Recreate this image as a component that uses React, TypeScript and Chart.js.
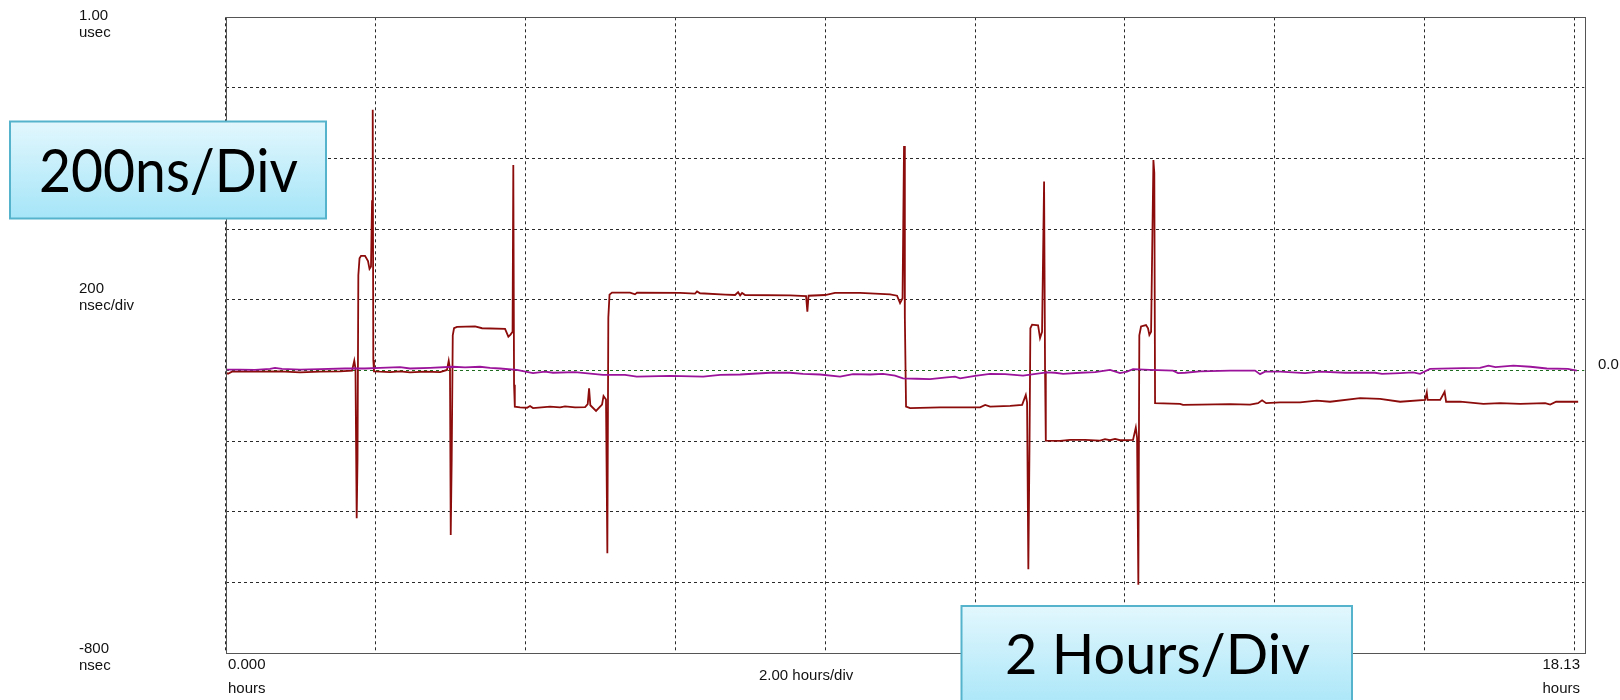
import React, { useEffect, useRef } from "react";
import { Chart, registerables } from "chart.js";

Chart.register(...registerables);

// ---- Data (hours, nanoseconds) ----
const redHours = [
  0.0, 0.031, 0.084, 0.458, 0.725, 0.992, 1.258, 1.525, 1.686, 1.716, 1.732, 1.748, 1.759, 1.77, 1.786, 1.806,
  1.859, 1.899, 1.919, 1.939, 1.953, 1.962, 1.97, 1.979, 2.059, 2.193, 2.327, 2.46, 2.66, 2.861, 2.953, 2.976,
  2.993, 3.003, 3.016, 3.03, 3.047, 3.087, 3.327, 3.421, 3.728, 3.772, 3.801, 3.828, 3.838, 3.848, 3.858, 3.928,
  4.021, 4.061, 4.101, 4.328, 4.462, 4.528, 4.662, 4.796, 4.831, 4.849, 4.866, 4.942, 5.022, 5.042, 5.075, 5.093,
  5.106, 5.122, 5.155, 5.396, 5.462, 5.489, 6.063, 6.263, 6.29, 6.33, 6.664, 6.798, 6.838, 6.865, 6.891, 6.931,
  7.532, 7.745, 7.762, 7.778, 7.998, 8.131, 8.465, 8.866, 8.959, 8.999, 9.032, 9.052, 9.063, 9.079, 9.133, 9.533,
  10.067, 10.135, 10.201, 10.468, 10.628, 10.677, 10.694, 10.711, 10.727, 10.738, 10.761, 10.841, 10.867, 10.894,
  10.921, 10.934, 10.944, 11.134, 11.268, 11.468, 11.668, 11.734, 11.801, 11.868, 11.934, 12.108, 12.145, 12.162,
  12.179, 12.192, 12.215, 12.281, 12.308, 12.326, 12.349, 12.38, 12.392, 12.402, 12.735, 12.775, 13.002, 13.403,
  13.67, 13.776, 13.83, 13.884, 14.07, 14.337, 14.56, 14.737, 15.138, 15.405, 15.672, 16.005, 16.028, 16.039,
  16.207, 16.266, 16.286, 16.473, 16.784, 17.007, 17.275, 17.608, 17.675, 17.754, 18.048,
];
const redNs = [
  -5, -9, -3, -3, -2, -5, -3, -2, 0, 28, 5, -418, -250, 270, 318, 325,
  325, 310, 288, 295, 480, 738, 30, -2, -3, -4, -2, -5, -3, -4, 2, 28,
  5, -465, -250, 100, 120, 124, 125, 120, 118, 96, 102, 110, 582, -40, -102, -104,
  -105, -100, -106, -102, -104, -101, -104, -103, -95, -50, -98, -114, -96, -72, -82, -517,
  150, 215, 221, 221, 216, 221, 220, 218, 224, 219, 215, 214, 222, 213, 220, 214,
  213, 211, 167, 212, 214, 220, 220, 216, 212, 191, 205, 636, 150, -102, -106, -104,
  -104, -97, -102, -100, -97, -69, -90, -562, -200, 120, 130, 128, 92, 110,
  535, 0, -198, -199, -196, -196, -198, -194, -197, -193, -197, -196, -161, -190,
  -606, 100, 125, 129, 120, 101, 110, 596, 560, -92, -94, -97, -96, -95,
  -96, -92, -84, -92, -90, -90, -85, -88, -78, -80, -88, -83, -62, -83,
  -83, -60, -88, -88, -94, -92, -94, -92, -96, -88, -88,
];

const purpleHours = [
  0.0, 0.191, 0.391, 0.591, 0.658, 0.751, 0.992, 1.258, 1.592, 1.859, 2.059, 2.327, 2.46, 2.727, 3.034, 3.194,
  3.394, 3.528, 3.661, 3.884, 4.101, 4.261, 4.368, 4.662, 5.035, 5.329, 5.485, 5.93, 6.372, 6.599, 6.865, 7.265,
  7.532, 7.705, 7.932, 8.198, 8.372, 8.599, 8.772, 8.932, 9.039, 9.222, 9.399, 9.622, 9.733, 9.8, 10.0, 10.2,
  10.4, 10.64, 10.957, 11.068, 11.175, 11.402, 11.602, 11.735, 11.801, 11.934, 12.028, 12.108, 12.334, 12.641,
  12.708, 12.801, 13.002, 13.403, 13.736, 13.803, 13.87, 14.07, 14.404, 14.604, 14.938, 15.338, 15.431, 15.672,
  15.845, 15.938, 16.071, 16.511, 16.738, 16.851, 16.944, 17.184, 17.411, 17.63, 17.911, 18.03,
];
const purpleNs = [
  3, 3, 2, 5, 8, 5, 3, 4, 6, 6, 8, 10, 6, 8, 11, 9,
  11, 8, 6, 2, -7, -3, -6, -4, -12, -12, -17, -15, -17, -12, -11, -6,
  -6, -9, -11, -17, -10, -11, -9, -14, -22, -23, -24, -19, -17, -22, -15, -9,
  -10, -14, -5, -6, -9, -6, -4, 0, 2, -7, -3, 4, 2, 0,
  -7, -6, -2, 0, 0, -10, -3, -3, -7, -3, -6, -6, -9, -7,
  -5, -9, 5, 7, 8, 14, 10, 14, 11, 6, 5, 0,
];

const xMin = 0;
const xMax = 18.13;
const xStep = 2;
const yMin = -800;
const yMax = 1000;
const yStep = 200;

const LABEL_FONT = '15px "Liberation Sans", Arial, sans-serif';

const overlayPlugin = {
  id: "overlay",
  afterDraw(chart: any) {
    const ctx: CanvasRenderingContext2D = chart.ctx;
    const a = chart.chartArea;
    ctx.save();
    // frame
    ctx.strokeStyle = "#555";
    ctx.lineWidth = 1;
    ctx.setLineDash([]);
    ctx.strokeRect(Math.round(a.left) + 0.5, Math.round(a.top) + 0.5, Math.round(a.right - a.left), Math.round(a.bottom - a.top));

    // labels
    ctx.fillStyle = "#111";
    ctx.font = LABEL_FONT;
    ctx.textBaseline = "alphabetic";
    ctx.textAlign = "left";
    ctx.fillText("1.00", 79, 20);
    ctx.fillText("usec", 79, 37);
    ctx.fillText("200", 79, 293);
    ctx.fillText("nsec/div", 79, 310);
    ctx.fillText("-800", 79, 652.5);
    ctx.fillText("nsec", 79, 670);
    ctx.fillText("0.000", 228, 669);
    ctx.fillText("hours", 228, 693);
    ctx.fillText("2.00 hours/div", 759, 679.5);
    ctx.fillText("0.0", 1598, 368.5);
    ctx.textAlign = "right";
    ctx.fillText("18.13", 1580, 669);
    ctx.fillText("hours", 1580, 693);

    // annotation boxes
    const drawBox = (x: number, y: number, w: number, h: number, text: string, tx: number, ty: number, size: number, tw: number) => {
      const g = ctx.createLinearGradient(0, y, 0, y + h);
      g.addColorStop(0, "#e2f7fd");
      g.addColorStop(1, "#a5e5f8");
      ctx.fillStyle = g;
      ctx.fillRect(x, y, w, h);
      ctx.strokeStyle = "#55b3cc";
      ctx.lineWidth = 2;
      ctx.strokeRect(x, y, w, h);
      ctx.fillStyle = "#000";
      ctx.font = `${size}px Lato, "Open Sans", sans-serif`;
      ctx.textAlign = "left";
      ctx.fillText(text, tx, ty, tw);
    };
    drawBox(10, 121.5, 316, 97, "200ns/Div", 39, 191.5, 60, 259);
    drawBox(961.5, 606, 390.5, 110, "2 Hours/Div", 1005, 673.5, 56, 305);
    ctx.restore();
  },
};

export default function App() {
  const canvasRef = useRef<HTMLCanvasElement | null>(null);

  useEffect(() => {
    const canvas = canvasRef.current;
    if (!canvas) return;
    const gridColor = (c: any, axis: string) => {
      const v = c.tick ? c.tick.value : null;
      if (axis === "y" && v === 0) return "#1f6b1f";
      return "#2a2a2a";
    };
    const chart = new Chart(canvas, {
      type: "line",
      data: {
        datasets: [
          {
            label: "Purple",
            data: purpleHours.map((h, i) => ({ x: h, y: purpleNs[i] })),
            borderColor: "#9a139a",
            borderWidth: 1.8,
            pointRadius: 0,
            tension: 0,
            order: 0,
          },
          {
            label: "Red",
            data: redHours.map((h, i) => ({ x: h, y: redNs[i] })),
            borderColor: "#8c0b0b",
            borderWidth: 1.8,
            pointRadius: 0,
            tension: 0,
            order: 1,
          },
        ],
      },
      options: {
        animation: false,
        responsive: false,
        events: [],
        layout: { padding: { left: 225.7, top: 17.3, right: 35.7, bottom: 46.7 } },
        plugins: { legend: { display: false }, tooltip: { enabled: false } },
        scales: {
          x: {
            type: "linear",
            min: xMin,
            max: xMax,
            ticks: { display: false, stepSize: xStep, includeBounds: false },
            grid: { color: (c: any) => gridColor(c, "x"), drawTicks: false, lineWidth: 1 },
            border: { display: false, dash: [3, 3] },
          },
          y: {
            type: "linear",
            min: yMin,
            max: yMax,
            ticks: { display: false, stepSize: yStep },
            grid: { color: (c: any) => gridColor(c, "y"), drawTicks: false, lineWidth: 1 },
            border: { display: false, dash: [3, 3] },
          },
        },
      } as any,
      plugins: [overlayPlugin],
    });
    return () => chart.destroy();
  }, []);

  return (
    <div style={{ position: "absolute", left: 0, top: 0, width: 1620, height: 700, background: "#fff", overflow: "hidden" }}>
      <canvas ref={canvasRef} width={1620} height={700} style={{ display: "block" }} />
    </div>
  );
}
